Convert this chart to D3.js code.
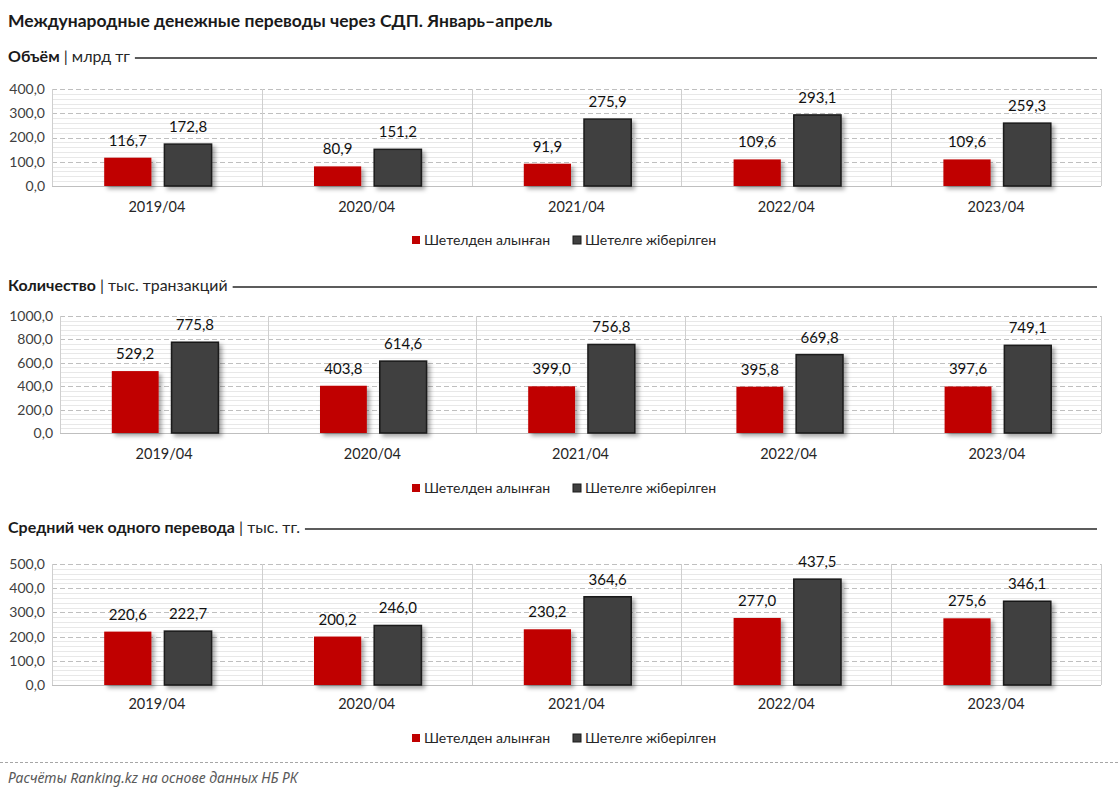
<!DOCTYPE html>
<html><head><meta charset="utf-8">
<script src="https://cdn.jsdelivr.net/npm/d3@7"></script>
<style>
html,body{margin:0;padding:0;background:#fff;}
svg{display:block;}
</style></head>
<body>
<svg id="chart" width="1120" height="794"></svg>
<script>
const categories = ["2019/04","2020/04","2021/04","2022/04","2023/04"];
const seriesNames = ["Шетелден алынған","Шетелге жіберілген"];
const volReceived = [116.7, 80.9, 91.9, 109.6, 109.6];
const volSent = [172.8, 151.2, 275.9, 293.1, 259.3];
const cntReceived = [529.2, 403.8, 399.0, 395.8, 397.6];
const cntSent = [775.8, 614.6, 756.8, 669.8, 749.1];
const avgReceived = [220.6, 200.2, 230.2, 277.0, 275.6];
const avgSent = [222.7, 246.0, 364.6, 437.5, 346.1];
const volTicks = [0, 100, 200, 300, 400];
const cntTicks = [0, 200, 400, 600, 800, 1000];
const avgTicks = [0, 100, 200, 300, 400, 500];
const titleText = "Международные денежные переводы через СДП. Январь–апрель";
const footerText = "Расчёты Ranking.kz на основе данных НБ РК";

const colors = ["#C00000", "#404040"];
const FONT = "Lato, 'Liberation Sans', sans-serif";
const svg = d3.select("#chart");
const fmt = v => d3.format(".1f")(v).replace(".", ",");

const defs = svg.append("defs");
const f = defs.append("filter").attr("id","shadow").attr("x","-20%").attr("y","-20%").attr("width","160%").attr("height","160%");
f.append("feDropShadow").attr("dx",3).attr("dy",3).attr("stdDeviation",2).attr("flood-color","#000").attr("flood-opacity",0.35);

function fit(sel, w){
  const n = sel.node();
  const cur = parseFloat(sel.attr("font-size"));
  const len = n.getComputedTextLength();
  sel.attr("font-size", cur * w / len);
}

// Title
const t = svg.append("text").attr("x",8).attr("y",27).attr("font-family",FONT).attr("font-weight","bold")
  .attr("font-size",15).attr("fill","#1a1a1a").text(titleText);
fit(t, 545);

const charts = [
  {head:"Объём", unit:" | млрд тг", hy:62, top:89, bottom:186, left:52, right:1101, ticks:volTicks, a:volReceived, b:volSent, cy:212, ly:240},
  {head:"Количество", unit:" | тыс. транзакций", hy:291, top:316, bottom:433, left:60, right:1101, ticks:cntTicks, a:cntReceived, b:cntSent, cy:459, ly:488},
  {head:"Средний чек одного перевода", unit:" | тыс. тг.", hy:533, top:564, bottom:685, left:52, right:1101, ticks:avgTicks, a:avgReceived, b:avgSent, cy:709, ly:738}
];
const headWidths = [122, 220, 292];

charts.forEach((c, ci) => {
  const g = svg.append("g");
  // header
  const ht = g.append("text").attr("x",8).attr("y",c.hy).attr("font-family",FONT).attr("font-size",14).attr("fill","#1a1a1a");
  ht.append("tspan").attr("font-weight","bold").text(c.head);
  ht.append("tspan").attr("fill","#262626").text(c.unit);
  fit(ht, headWidths[ci]);
  const hw = ht.node().getComputedTextLength();
  g.append("line").attr("x1",8+hw+5).attr("x2",1097).attr("y1",c.hy-4).attr("y2",c.hy-4)
    .attr("stroke","#262626").attr("stroke-width",1.3);

  const x = d3.scaleBand().domain(categories).range([c.left, c.right]);
  const maxT = c.ticks[c.ticks.length-1];
  const y = d3.scaleLinear().domain([0, maxT]).range([c.bottom, c.top]);
  const step = c.ticks[1] - c.ticks[0];

  // minor stripes
  const minor = d3.range(0, maxT, step/5).filter(v => v % step !== 0);
  g.append("g").selectAll("line").data(minor).join("line")
    .attr("x1",c.left).attr("x2",c.right).attr("y1",d=>Math.round(y(d))+0.5).attr("y2",d=>Math.round(y(d))+0.5)
    .attr("stroke","#e8e8e8").attr("stroke-width",1);
  // major dashed
  g.append("g").selectAll("line").data(c.ticks.filter(v=>v>0)).join("line")
    .attr("x1",c.left).attr("x2",c.right).attr("y1",d=>Math.round(y(d))+0.5).attr("y2",d=>Math.round(y(d))+0.5)
    .attr("stroke","#bfbfbf").attr("stroke-width",1).attr("stroke-dasharray","5,3");
  // category separators and borders
  const seps = categories.map(d => x(d)).concat([c.right]);
  g.append("g").selectAll("line").data(seps).join("line")
    .attr("x1",d=>Math.round(d)+0.5).attr("x2",d=>Math.round(d)+0.5).attr("y1",c.top).attr("y2",c.bottom)
    .attr("stroke","#cfcfcf").attr("stroke-width",1);
  g.append("line").attr("x1",c.left).attr("x2",c.right).attr("y1",c.bottom+0.5).attr("y2",c.bottom+0.5)
    .attr("stroke","#bfbfbf");

  // y axis labels
  const ya = g.append("g").attr("transform",`translate(${c.left-7},0)`)
    .call(d3.axisLeft(y).tickValues(c.ticks).tickSize(0).tickPadding(0).tickFormat(fmt));
  ya.select(".domain").remove();
  ya.selectAll("text").attr("font-family",FONT).attr("font-size",14).attr("fill","#404040");

  // x axis labels
  const xa = g.append("g").attr("transform",`translate(0,${c.cy-10})`)
    .call(d3.axisBottom(x).tickSize(0).tickPadding(0));
  xa.select(".domain").remove();
  xa.selectAll("text").attr("font-family",FONT).attr("font-size",14.5).attr("fill","#262626").attr("dy","0.71em");

  // bars
  const bw = x.bandwidth();
  const barW = bw * 0.225, gap = bw * 0.062;
  const offs = [-(gap/2) - barW + 1, gap/2 + 1];
  [c.a, c.b].forEach((vals, si) => {
    const bg = g.append("g");
    bg.selectAll("rect").data(vals).join("rect")
      .attr("x",(d,i)=> x(categories[i]) + bw/2 + offs[si])
      .attr("y",d=>y(d)).attr("width",barW).attr("height",d=>c.bottom - y(d))
      .attr("fill",colors[si]).attr("filter","url(#shadow)")
      .attr("stroke", si===1 ? "#1a1a1a" : "none").attr("stroke-width", 1.5);
    bg.selectAll("text").data(vals).join("text")
      .attr("x",(d,i)=> x(categories[i]) + bw/2 + offs[si] + barW/2)
      .attr("y",d=>y(d) - 12).attr("text-anchor","middle")
      .attr("font-family",FONT).attr("font-size",15).attr("fill","#111").text(d=>fmt(d));
  });

  // legend
  const lg = g.append("g");
  const lx = [412, 573];
  seriesNames.forEach((n, si) => {
    lg.append("rect").attr("x",lx[si]).attr("y",c.ly-4).attr("width",8).attr("height",8)
      .attr("fill",colors[si]).attr("stroke", si===1?"#1a1a1a":"none");
    lg.append("text").attr("x",lx[si]+12).attr("y",c.ly+5).attr("font-family",FONT)
      .attr("font-size",14).attr("fill","#262626").text(n);
  });
});

// footer
svg.append("line").attr("x1",0).attr("x2",1120).attr("y1",762.5).attr("y2",762.5)
  .attr("stroke","#a6a6a6").attr("stroke-dasharray","3,2");
const ft = svg.append("text").attr("x",8).attr("y",783).attr("font-family","'Noto Sans', sans-serif")
  .attr("font-style","italic").attr("font-size",14).attr("fill","#595959").text(footerText);
fit(ft, 290);
</script>
</body></html>
